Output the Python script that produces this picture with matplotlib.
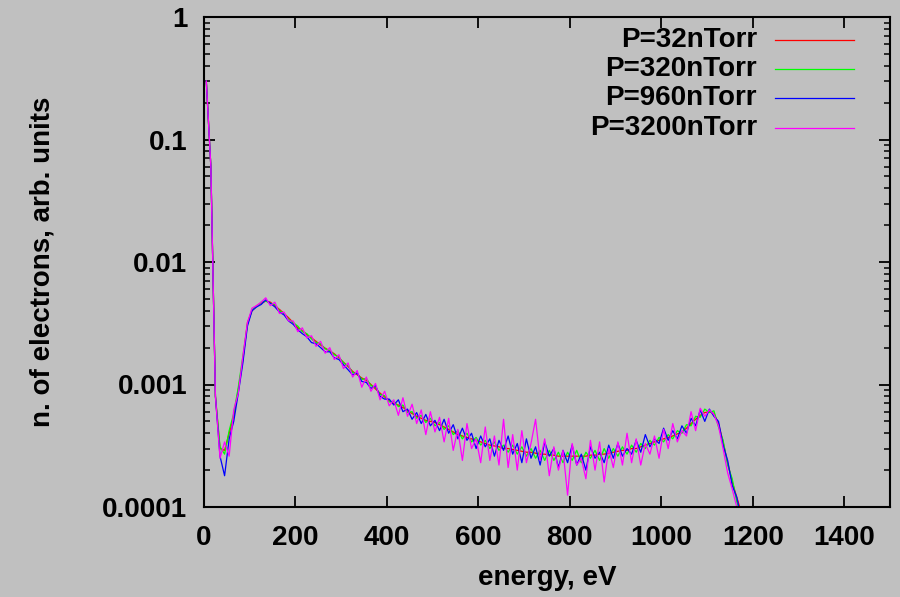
import matplotlib
matplotlib.use("Agg")
import matplotlib.pyplot as plt
import numpy as np
from matplotlib.ticker import LogLocator, NullFormatter, FixedLocator

plt.rcParams.update({
    "font.family": ["Liberation Sans", "DejaVu Sans"],
    "font.weight": "bold",
    "font.size": 20,
})

# energy bins, eV
energy = list(range(5, 1180, 10))

# spectra in units of 1e-4 (arb. units)
p32 = [3000, 600, 8, 3.0, 2.9, 4.0, 5.5, 9, 16, 32, 40, 44, 46, 48, 47, 44, 41, 38, 35, 32,
       29, 27.5, 25.5, 24, 22.5, 21, 19.8, 18.8, 17.8, 16.5, 15.2, 14, 12.8, 12, 11.3, 10.8, 10, 9.2, 8.5, 7.9,
       7.4, 7.0, 6.8, 6.5, 6.1, 5.8, 5.5, 5.3, 5.1, 5.0, 4.9, 4.7, 4.5, 4.3, 4.1, 3.9, 3.8, 3.7, 3.6, 3.5,
       3.4, 3.3, 3.2, 3.15, 3.1, 3.0, 3.0, 2.95, 2.9, 2.85, 2.8, 2.8, 2.75, 2.7, 2.7, 2.65, 2.65, 2.6, 2.6, 2.6,
       2.6, 2.6, 2.6, 2.6, 2.65, 2.65, 2.7, 2.7, 2.75, 2.8, 2.85, 2.9, 2.9, 3.0, 3.0, 3.1, 3.2, 3.3, 3.4, 3.5,
       3.6, 3.7, 3.8, 3.95, 4.1, 4.4, 4.8, 5.2, 5.6, 5.9, 6.0, 5.8, 4.8, 3.4, 2.3, 1.6, 1.2, 0.9]
p320 = [3000, 600, 8, 3.1, 2.7, 4.2, 5.8, 9.5, 17, 31, 41, 43, 47, 48, 46, 45, 40, 38, 34, 32,
        30, 27, 26, 23.5, 22, 21.5, 19.5, 19, 17.5, 16.8, 15, 14.3, 12.5, 12.3, 11, 11.2, 9.8, 9.5, 8.3, 8.1,
        7.2, 7.3, 6.6, 6.8, 5.9, 6.0, 5.3, 5.6, 4.9, 5.3, 4.6, 4.9, 4.3, 4.6, 3.9, 4.2, 3.6, 4.0, 3.4, 3.7,
        3.2, 3.5, 3.0, 3.4, 2.9, 3.2, 2.8, 3.2, 2.7, 3.1, 2.6, 3.0, 2.5, 2.9, 2.4, 2.9, 2.4, 2.8, 2.3, 2.8,
        2.4, 2.9, 2.3, 2.8, 2.5, 2.9, 2.4, 3.0, 2.5, 3.0, 2.6, 3.1, 2.7, 3.2, 2.8, 3.3, 3.0, 3.5, 3.2, 3.7,
        3.4, 3.9, 3.6, 4.2, 4.0, 4.7, 4.6, 5.5, 5.4, 6.3, 5.9, 6.1, 4.5, 3.5, 2.2, 1.7, 1.1, 0.85]
p960 = [3000, 600, 8, 2.6, 1.8, 3.6, 5.0, 8.5, 15, 30, 40, 43, 45, 49, 46, 43, 39, 37, 33, 31,
        28, 26, 24.5, 22, 21.5, 20, 18.5, 18.5, 16.5, 16, 14.5, 13.2, 12, 12.4, 10.6, 10.4, 9.3, 9.8, 8.0, 7.6,
        7.6, 6.8, 7.5, 6.0, 6.3, 5.2, 5.9, 4.8, 5.7, 4.6, 5.1, 4.2, 5.2, 4.0, 4.7, 3.6, 4.4, 3.5, 4.0, 3.0,
        3.8, 3.1, 3.6, 2.6, 3.5, 2.9, 3.8, 2.7, 3.3, 2.3, 3.6, 2.5, 3.1, 2.2, 3.4, 2.6, 3.0, 2.1, 2.9, 2.3,
        3.2, 2.2, 2.7, 2.0, 3.1, 2.5, 2.8, 2.3, 3.2, 2.5, 3.3, 2.6, 3.0, 2.7, 3.5, 2.8, 3.9, 3.1, 3.6, 3.3,
        4.4, 3.5, 4.2, 3.6, 4.6, 4.0, 5.3, 4.6, 6.2, 5.0, 6.3, 5.5, 5.0, 3.2, 2.4, 1.5, 1.2, 0.8]
p3200 = [3000, 600, 8, 2.5, 3.4, 2.6, 6.2, 8.5, 17, 32, 42, 44, 47, 51, 44, 47, 38, 39, 33, 33,
         27, 29, 24, 25, 20.5, 22.5, 18, 20, 16, 17.5, 13.5, 15, 11.5, 13, 9.5, 11.5, 8.8, 10.2, 7.5, 8.8,
         6.7, 7.5, 5.6, 7.8, 5.5, 6.9, 4.8, 6.2, 3.9, 6.0, 4.1, 5.4, 3.4, 5.3, 2.9, 4.3, 2.4, 4.8, 3.0, 3.6,
         2.3, 4.5, 2.4, 3.8, 2.2, 5.2, 2.1, 3.9, 2.0, 4.2, 2.3, 3.3, 5.2, 2.4, 3.6, 1.8, 3.1, 2.0, 2.9, 1.25,
         3.3, 2.2, 2.5, 1.7, 3.5, 2.0, 3.4, 1.6, 3.0, 2.1, 3.4, 2.2, 4.0, 2.3, 3.6, 2.2, 3.3, 2.7, 3.8, 2.5,
         4.3, 3.0, 4.8, 3.4, 4.2, 3.8, 6.0, 4.2, 6.4, 5.5, 6.2, 5.7, 4.6, 3.0, 1.9, 1.4, 1.0, 0.7]

labels = ["P=32nTorr", "P=320nTorr", "P=960nTorr", "P=3200nTorr"]
colors = ["#ff0000", "#00ff00", "#0000ff", "#ff00ff"]
series = [p32, p320, p960, p3200]

bg = "#c0c0c0"
fig = plt.figure(figsize=(9, 5.97), dpi=100, facecolor=bg)
ax = fig.add_axes([204 / 900, 1 - 507 / 597, 686 / 900, 490 / 597], facecolor=bg)

E = np.array(energy)
for ys, lab, c in zip(series, labels, colors):
    ax.plot(E, np.array(ys) * 1e-4, color=c, lw=0.9, label=lab)

ax.set_yscale("log")
ax.set_xlim(0, 1500)
ax.set_ylim(1e-4, 1)
ax.xaxis.set_major_locator(FixedLocator([0, 200, 400, 600, 800, 1000, 1200, 1400]))
ax.yaxis.set_major_locator(FixedLocator([1e-4, 1e-3, 1e-2, 1e-1, 1]))
ax.yaxis.set_minor_locator(LogLocator(base=10, subs=np.arange(2, 10)))
ax.yaxis.set_minor_formatter(NullFormatter())
ax.set_yticklabels(["0.0001", "0.001", "0.01", "0.1", "1"])

ax.tick_params(which="major", direction="in", length=8, width=1.3,
               top=True, right=True, pad=12, labelsize=20)
ax.tick_params(which="minor", direction="in", length=4.5, width=1.1,
               left=True, right=True)
ax.tick_params(axis="x", pad=13)
for s in ax.spines.values():
    s.set_linewidth(1.5)

ax.set_xlabel("energy, eV", fontsize=20, fontweight="bold")
ax.set_ylabel("n. of electrons, arb. units", fontsize=20, fontweight="bold")
ax.xaxis.set_label_coords(0.5, -0.118)
ax.yaxis.set_label_coords(-0.216, 0.5)

# legend drawn gnuplot-style: text right-aligned, sample line to the right
rows = [0.953, 0.894, 0.835, 0.773]
for lab, c, yy in zip(labels, colors, rows):
    ax.text(0.806, yy, lab, transform=ax.transAxes, ha="right", va="center",
            fontsize=20, fontweight="bold")
    ax.plot([0.832, 0.948], [yy, yy], transform=ax.transAxes, color=c, lw=0.9)

fig.savefig("out.png", dpi=100, facecolor=bg)
